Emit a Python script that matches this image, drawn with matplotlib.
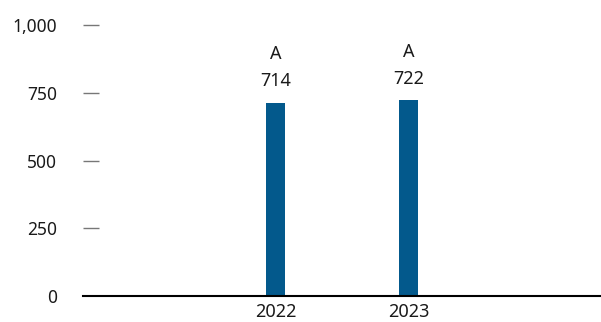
import matplotlib.pyplot as plt
from matplotlib.ticker import FuncFormatter

# Values per year with grade letters shown above each bar
years = ["2022", "2023"]
values = [714, 722]
grades = ["A", "A"]
y_ticks = [0, 250, 500, 750, 1000]

BAR_COLOR = "#03598c"
TEXT_COLOR = "#1a1a1a"

plt.rcParams["font.family"] = ["Noto Sans", "DejaVu Sans"]

fig = plt.figure(figsize=(6.01, 3.22), dpi=100)
ax = fig.add_axes([83 / 601, 26 / 322, 518 / 601, 271 / 322])

x = list(range(len(years)))
bars = ax.bar(x, values, width=0.143, color=BAR_COLOR, zorder=2)

for bar, val, grade in zip(bars, values, grades):
    cx = bar.get_x() + bar.get_width() / 2
    ax.annotate(f"{val:,}", (cx, val), xytext=(0, 9), textcoords="offset points",
                ha="center", va="bottom", fontsize=13, color=TEXT_COLOR)
    ax.annotate(grade, (cx, val), xytext=(0, 28.5), textcoords="offset points",
                ha="center", va="bottom", fontsize=13, color=TEXT_COLOR)

ax.set_xlim(-1.447, 2.447)
ax.set_ylim(0, 1000)
ax.set_xticks(x)
ax.set_xticklabels(years)
ax.set_yticks(y_ticks)
ax.yaxis.set_major_formatter(FuncFormatter(lambda v, p: f"{int(v):,}"))

for side in ["top", "right", "left"]:
    ax.spines[side].set_visible(False)
ax.spines["bottom"].set_color("black")
ax.spines["bottom"].set_linewidth(1.5)

ax.tick_params(axis="y", direction="in", length=11.5, width=1, color="#777777",
               pad=18.5, labelsize=12.5, labelcolor=TEXT_COLOR)
ax.tick_params(axis="x", length=0, pad=5, labelsize=13, labelcolor=TEXT_COLOR)
# the zero tick sits on the baseline
ax.yaxis.get_major_ticks()[0].tick1line.set_visible(False)

fig.savefig("out.png", dpi=100)
